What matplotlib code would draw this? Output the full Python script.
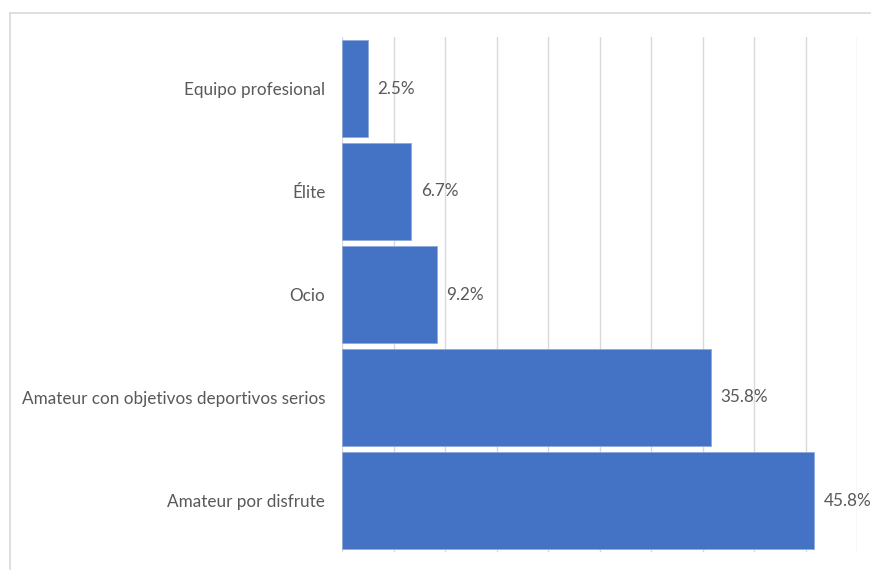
import matplotlib
matplotlib.use("Agg")
import matplotlib.pyplot as plt
from matplotlib.lines import Line2D

categories = ["Equipo profesional", "Élite", "Ocio",
              "Amateur con objetivos deportivos serios", "Amateur por disfrute"]
values = [2.5, 6.7, 9.2, 35.8, 45.8]
value_labels = ["2.5%", "6.7%", "9.2%", "35.8%", "45.8%"]

W, H = 871, 570
fig = plt.figure(figsize=(W / 100, H / 100), dpi=100)
ax = fig.add_axes([342 / W, 1 - 552 / H, (857 - 342) / W, (552 - 37) / H])

font = ["Lato", "DejaVu Sans"]
text_color = "#595959"

y = list(range(len(categories)))
bars = ax.barh(y, values, height=0.94, color="#4472C4", edgecolor="#8FAADC",
               linewidth=0.6, zorder=3)
ax.set_xlim(0, 50)
ax.set_ylim(len(categories) - 0.5, -0.5)
ax.set_xticks([i * 5 for i in range(11)])
ax.set_xticklabels([])
ax.tick_params(axis="x", length=0)
ax.set_yticks(y)
ax.set_yticklabels(categories, fontsize=12.3, color=text_color, family=font)
ax.tick_params(axis="y", length=0, pad=12)
ax.grid(axis="x", color="#D9D9D9", linewidth=1, zorder=0)
for s in ax.spines.values():
    s.set_visible(False)

for b, lab in zip(bars, value_labels):
    ax.annotate(lab, (b.get_width(), b.get_y() + b.get_height() / 2),
                xytext=(7, 0), textcoords="offset points", va="center", ha="left",
                fontsize=12.3, color=text_color, family=font)

fig.add_artist(Line2D([10 / W, 1], [1 - 13 / H, 1 - 13 / H], color="#D9D9D9", lw=1.2))
fig.add_artist(Line2D([10 / W, 10 / W], [0, 1 - 13 / H], color="#D9D9D9", lw=1.2))

fig.savefig("out.png", dpi=100)
